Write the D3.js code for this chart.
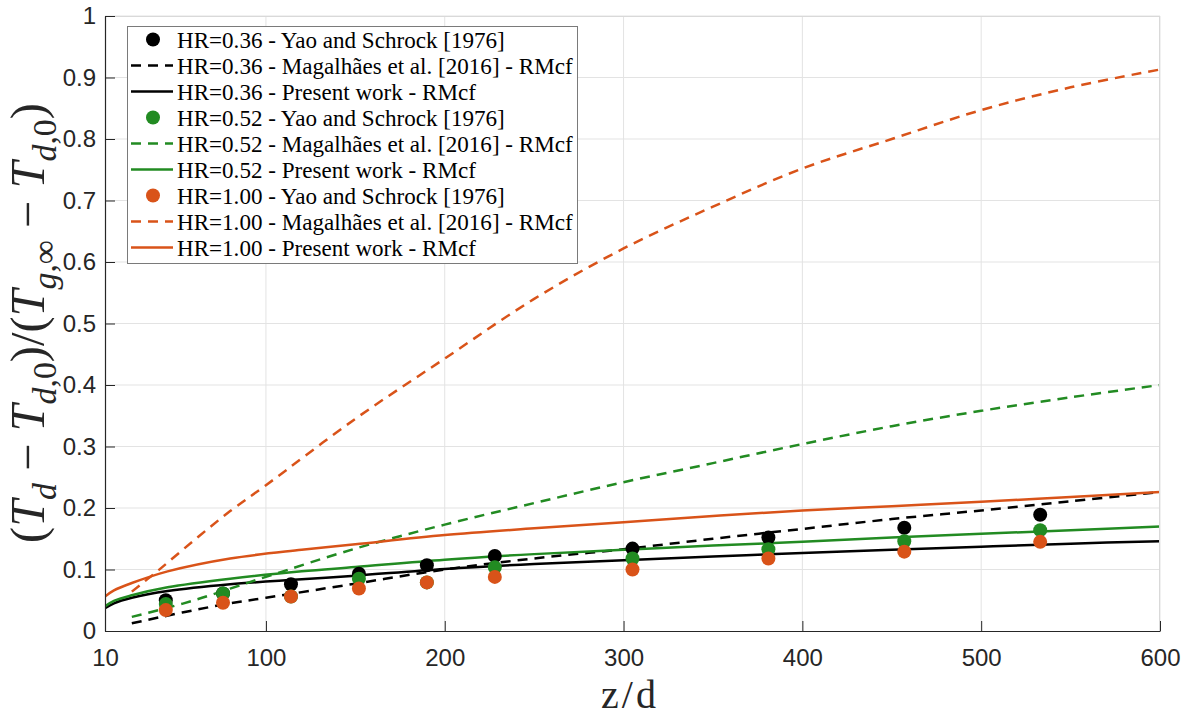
<!DOCTYPE html>
<html>
<head>
<meta charset="utf-8">
<script src="https://cdn.jsdelivr.net/npm/d3@7"></script>
<style>
  html, body { margin: 0; padding: 0; background: #fff; }
  svg { display: block; }
</style>
</head>
<body>
<svg id="chart" width="1190" height="720"></svg>
<script>
// ---------------- data ----------------
const xTicks = [10, 100, 200, 300, 400, 500, 600];
const yTicks = [0, 0.1, 0.2, 0.3, 0.4, 0.5, 0.6, 0.7, 0.8, 0.9, 1];
const yTickLabels = ["0", "0.1", "0.2", "0.3", "0.4", "0.5", "0.6", "0.7", "0.8", "0.9", "1"];

// experimental points (Yao and Schrock 1976)
const zExp = [44, 76, 114, 152, 190, 228, 305, 381, 457, 533];
const yaoHR036 = [0.050, 0.061, 0.076, 0.093, 0.107, 0.122, 0.134, 0.152, 0.168, 0.189];
const yaoHR052 = [0.044, 0.061, 0.056, 0.085, 0.079, 0.1035, 0.118, 0.133, 0.146, 0.164];
const yaoHR100 = [0.034, 0.046, 0.056, 0.069, 0.079, 0.088, 0.100, 0.118, 0.129, 0.145];

// present work - RMcf (solid)
const zPresent = [10, 15, 25, 45, 80, 120, 150, 200, 250, 300, 350, 400, 450, 500, 550, 600];
const presentHR036 = [0.037, 0.045, 0.054, 0.065, 0.076, 0.084, 0.090, 0.101, 0.109, 0.115, 0.121, 0.127, 0.132, 0.137, 0.142, 0.146];
const presentHR052 = [0.040, 0.049, 0.058, 0.071, 0.085, 0.097, 0.104, 0.116, 0.125, 0.132, 0.139, 0.145, 0.152, 0.158, 0.164, 0.170];
const presentHR100 = [0.056, 0.066, 0.078, 0.097, 0.118, 0.132, 0.141, 0.156, 0.167, 0.177, 0.187, 0.196, 0.203, 0.210, 0.218, 0.226];

// Magalhães et al. 2016 - RMcf (dashed)
const zMag = [25, 40, 60, 80, 100, 150, 200, 250, 300, 350, 400, 450, 500, 550, 600];
const magHR036 = [0.0125, 0.022, 0.034, 0.045, 0.054, 0.077, 0.100, 0.118, 0.133, 0.150, 0.166, 0.182, 0.196, 0.211, 0.226];
const magHR052 = [0.023, 0.034, 0.050, 0.069, 0.088, 0.134, 0.173, 0.208, 0.242, 0.273, 0.304, 0.333, 0.358, 0.380, 0.400];
const magHR100 = [0.064, 0.099, 0.148, 0.195, 0.237, 0.345, 0.443, 0.540, 0.622, 0.690, 0.752, 0.800, 0.847, 0.884, 0.913];

const hrLabels = ["0.36", "0.52", "1.00"];
const colors = ["#000000", "#228B22", "#D95319"];

// ---------------- layout ----------------
const svg = d3.select("#chart");
const L = 105, R = 1160, T = 16, B = 631;
const x = d3.scaleLinear().domain([10, 600]).range([L, R]);
const y = d3.scaleLinear().domain([0, 1]).range([B, T]);
const axisColor = "#262626";
const gridColor = "#e3e3e3";
const serif = "'Liberation Serif', 'Times New Roman', 'DejaVu Serif', serif";

// grid
const grid = svg.append("g");
grid.selectAll("line.gx").data(xTicks.slice(1)).enter().append("line")
  .attr("x1", d => x(d)).attr("x2", d => x(d)).attr("y1", T).attr("y2", B)
  .attr("stroke", gridColor).attr("stroke-width", 1);
grid.selectAll("line.gy").data(yTicks.slice(1)).enter().append("line")
  .attr("x1", L).attr("x2", R).attr("y1", d => y(d)).attr("y2", d => y(d))
  .attr("stroke", gridColor).attr("stroke-width", 1);

// clip
svg.append("clipPath").attr("id", "clip").append("rect")
  .attr("x", L).attr("y", T).attr("width", R - L).attr("height", B - T);

const plot = svg.append("g").attr("clip-path", "url(#clip)");
const line = d3.line().x(d => x(d[0])).y(d => y(d[1])).curve(d3.curveCatmullRom.alpha(0.5));

const exp = [yaoHR036, yaoHR052, yaoHR100];
const mag = [magHR036, magHR052, magHR100];
const pres = [presentHR036, presentHR052, presentHR100];
const dash = "10,7";
const lw = 2.5;

for (let s = 0; s < 3; s++) {
  const pts = zExp.map((z, i) => [z, exp[s][i]]);
  svg.append("g").selectAll("circle").data(pts).enter().append("circle")
    .attr("cx", d => x(d[0])).attr("cy", d => y(d[1])).attr("r", 7)
    .attr("fill", colors[s]);
  plot.append("path").datum(zMag.map((z, i) => [z, mag[s][i]]))
    .attr("d", line).attr("fill", "none").attr("stroke", colors[s])
    .attr("stroke-width", lw).attr("stroke-dasharray", dash);
  plot.append("path").datum(zPresent.map((z, i) => [z, pres[s][i]]))
    .attr("d", line).attr("fill", "none").attr("stroke", colors[s])
    .attr("stroke-width", lw);
}

// box: top/right light
svg.append("line").attr("x1", L).attr("x2", R).attr("y1", T + 0.5).attr("y2", T + 0.5)
  .attr("stroke", "#d9d9d9").attr("stroke-width", 1);
svg.append("line").attr("x1", R - 0.5).attr("x2", R - 0.5).attr("y1", T).attr("y2", B)
  .attr("stroke", "#d9d9d9").attr("stroke-width", 1);

// axes
const xAxis = d3.axisBottom(x).tickValues(xTicks).tickSizeInner(-10).tickSizeOuter(0).tickPadding(18);
const yAxis = d3.axisLeft(y).tickValues(yTicks).tickFormat((d, i) => yTickLabels[i]).tickSizeInner(-10).tickSizeOuter(0).tickPadding(9);

const gx = svg.append("g").attr("transform", `translate(0,${B})`).call(xAxis);
const gy = svg.append("g").attr("transform", `translate(${L},0)`).call(yAxis);
[gx, gy].forEach(g => {
  g.select(".domain").attr("stroke", axisColor).attr("stroke-width", 1.2);
  g.selectAll(".tick line").attr("stroke", axisColor).attr("stroke-width", 1);
  g.selectAll(".tick text").attr("fill", axisColor)
    .style("font-family", "'Liberation Sans', Arial, sans-serif").style("font-size", "24px");
});
gx.selectAll(".tick text").attr("dy", "0.71em");

// x label
svg.append("text").attr("x", 630).attr("y", 708).attr("text-anchor", "middle")
  .style("font-family", serif).style("font-size", "40px")
  .style("letter-spacing", "3px").attr("fill", "#262626").text("z/d");

// y label (rotated, math)
const parts = [
  {t: "("}, {t: "T", i: 1}, {t: "d", i: 1, s: 1}, {t: " − "},
  {t: "T", i: 1}, {t: "d", i: 1, s: 1}, {t: ",0", s: 1}, {t: ")/("},
  {t: "T", i: 1}, {t: "g", i: 1, s: 1}, {t: ",∞", s: 1}, {t: " − "},
  {t: "T", i: 1}, {t: "d", i: 1, s: 1}, {t: ",0", s: 1}, {t: ")"}
];
function buildYLabel(fs) {
  svg.select("#ylab").remove();
  const yl = svg.append("text").attr("id", "ylab")
    .attr("transform", `translate(44,323) rotate(-90)`)
    .attr("text-anchor", "middle")
    .style("font-family", serif)
    .style("font-size", fs + "px").attr("fill", "#262626");
  let inSub = false;
  const shift = fs * 0.25;
  parts.forEach(p => {
    const ts = yl.append("tspan").text(p.t);
    if (p.i) ts.style("font-style", "italic");
    if (p.s) ts.style("font-size", (fs * 0.7) + "px");
    if (p.s && !inSub) { ts.attr("dy", shift); inSub = true; }
    else if (!p.s && inSub) { ts.attr("dy", -shift); inSub = false; }
  });
  return yl;
}
let yl = buildYLabel(32);
const ylen = yl.node().getComputedTextLength();
buildYLabel(32 * 440 / ylen);

// legend
const legItems = [];
for (let s = 0; s < 3; s++) {
  legItems.push({type: "m", c: colors[s], text: `HR=${hrLabels[s]} - Yao and Schrock [1976]`});
  legItems.push({type: "d", c: colors[s], text: `HR=${hrLabels[s]} - Magalhães et al. [2016] - RMcf`});
  legItems.push({type: "s", c: colors[s], text: `HR=${hrLabels[s]} - Present work - RMcf`});
}
const leg = svg.append("g");
leg.append("rect").attr("x", 127.5).attr("y", 26.5).attr("width", 450).attr("height", 237)
  .attr("fill", "#fff").attr("stroke", "#7a7a7a").attr("stroke-width", 1);
const rowY = i => 39.5 + i * 26;
const texts = [];
legItems.forEach((it, i) => {
  const yy = rowY(i);
  if (it.type === "m") {
    leg.append("circle").attr("cx", 153).attr("cy", yy).attr("r", 7).attr("fill", it.c);
  } else {
    leg.append("line").attr("x1", 131).attr("x2", 173).attr("y1", yy).attr("y2", yy)
      .attr("stroke", it.c).attr("stroke-width", lw)
      .attr("stroke-dasharray", it.type === "d" ? dash : null);
  }
  texts.push(leg.append("text").attr("x", 177).attr("y", yy).attr("dy", "0.35em")
    .style("font-family", serif)
    .style("font-size", "22px").attr("fill", "#000").text(it.text));
});
const maxW = d3.max(texts, t => t.node().getComputedTextLength());
const lfs = 22 * 396 / maxW;
texts.forEach(t => t.style("font-size", lfs + "px"));
</script>
</body>
</html>
